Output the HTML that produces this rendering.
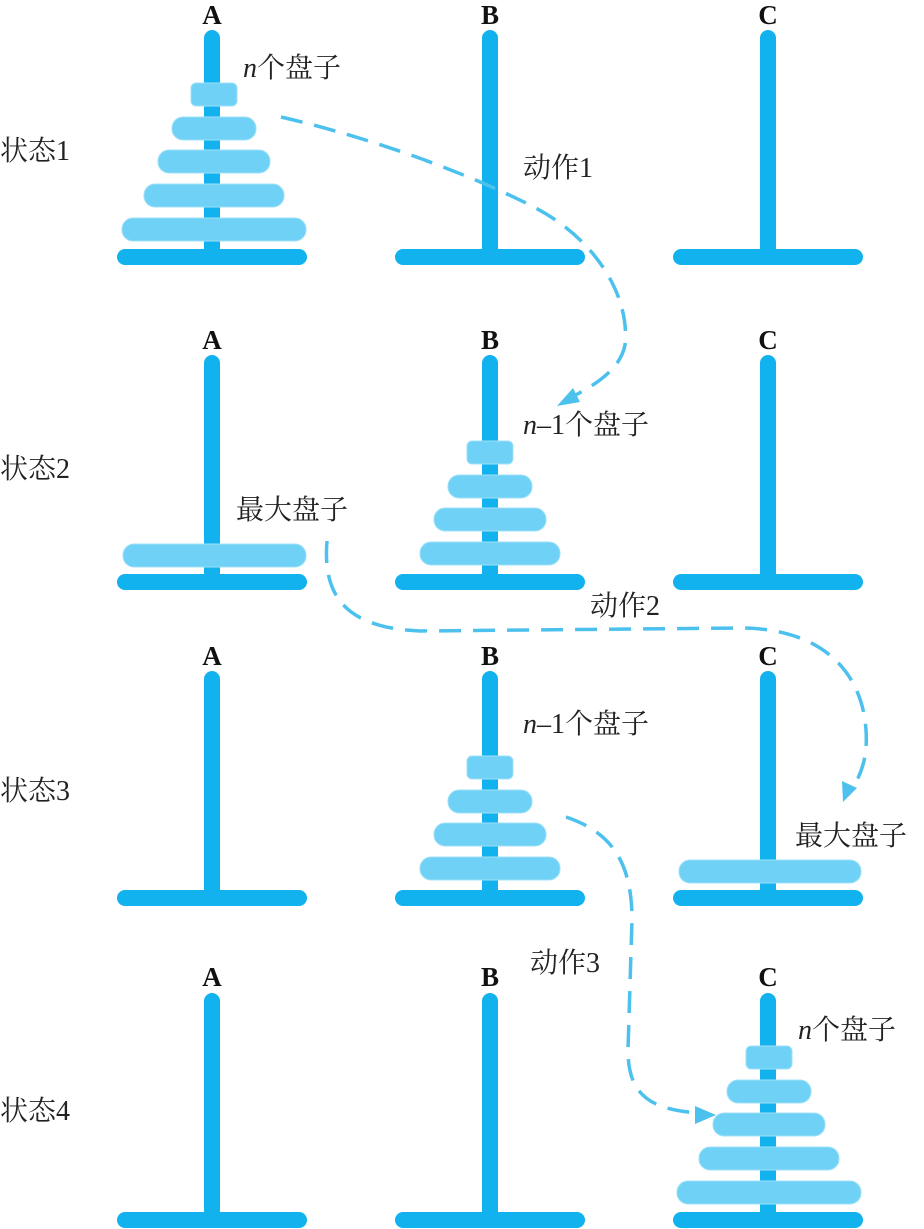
<!DOCTYPE html>
<html><head><meta charset="utf-8"><style>
html,body{margin:0;padding:0;background:#fff}
svg{display:block}
.t{font-family:"Liberation Serif","Noto Serif CJK SC","Noto Sans CJK SC",serif;font-size:28px;fill:#222}
.L{font-family:"Liberation Serif",serif;font-size:27px;font-weight:bold;fill:#111;text-anchor:middle}
.d{fill:#6fd1f5;stroke:#9fe0f8;stroke-width:1}
.c{fill:none;stroke:#4cc1ee;stroke-width:3.5;stroke-dasharray:22,12}
</style></head><body>
<svg width="924" height="1229" viewBox="0 0 924 1229" xmlns="http://www.w3.org/2000/svg">
<defs>
<g id="peg">
<rect x="-8" y="0" width="16" height="232" rx="8" fill="#12b2ee"/>
<rect x="-95" y="219" width="190" height="16" rx="8" fill="#12b2ee"/>
</g>
<g id="d4">
<rect class="d" x="-23" y="0" width="46" height="23" rx="5"/>
<rect class="d" x="-42" y="34" width="84" height="23" rx="11"/>
<rect class="d" x="-56" y="67" width="112" height="23" rx="11"/>
<rect class="d" x="-70" y="101" width="140" height="23" rx="11"/>
</g>
<g id="d5">
<use href="#d4"/>
<rect class="d" x="-92" y="135" width="184" height="23" rx="11"/>
</g>
</defs>
<!-- row 1 -->
<g transform="translate(0,30)">
<use href="#peg" x="212"/><use href="#peg" x="490"/><use href="#peg" x="768"/>
</g>
<use href="#d5" x="214" y="83"/>
<!-- row 2 -->
<g transform="translate(0,355)">
<use href="#peg" x="212"/><use href="#peg" x="490"/><use href="#peg" x="768"/>
</g>
<rect class="d" x="123" y="544" width="183" height="23" rx="11"/>
<use href="#d4" x="490" y="441"/>
<!-- row 3 -->
<g transform="translate(0,671)">
<use href="#peg" x="212"/><use href="#peg" x="490"/><use href="#peg" x="768"/>
</g>
<use href="#d4" x="490" y="756"/>
<rect class="d" x="679" y="860" width="182" height="23" rx="11"/>
<!-- row 4 -->
<g transform="translate(0,993)">
<use href="#peg" x="212"/><use href="#peg" x="490"/><use href="#peg" x="768"/>
</g>
<use href="#d5" x="769" y="1046"/>

<!-- labels -->
<text class="L" x="212" y="24">A</text><text class="L" x="490" y="24">B</text><text class="L" x="768" y="24">C</text>
<text class="L" x="212" y="349">A</text><text class="L" x="490" y="349">B</text><text class="L" x="768" y="349">C</text>
<text class="L" x="212" y="665">A</text><text class="L" x="490" y="665">B</text><text class="L" x="768" y="665">C</text>
<text class="L" x="212" y="986">A</text><text class="L" x="490" y="986">B</text><text class="L" x="768" y="986">C</text>

<text class="t" x="0" y="160">状态1</text>
<text class="t" x="0" y="478">状态2</text>
<text class="t" x="0" y="800">状态3</text>
<text class="t" x="0" y="1120">状态4</text>

<text class="t" x="243" y="77"><tspan font-style="italic">n</tspan>个盘子</text>
<text class="t" x="523" y="177">动作1</text>
<text class="t" x="523" y="434"><tspan font-style="italic">n</tspan>–1个盘子</text>
<text class="t" x="236" y="519">最大盘子</text>
<text class="t" x="590" y="615">动作2</text>
<text class="t" x="523" y="733"><tspan font-style="italic">n</tspan>–1个盘子</text>
<text class="t" x="795" y="845">最大盘子</text>
<text class="t" x="530" y="972">动作3</text>
<text class="t" x="798" y="1039"><tspan font-style="italic">n</tspan>个盘子</text>

<!-- connectors -->
<path class="c" d="M281,117 C380,140 470,175 530,205 C600,240 630,300 625,345 C620,370 595,385 570,398"/>
<polygon points="557,406 573,388 580,402" fill="#4cc1ee"/>
<path class="c" d="M327,541 C322,600 350,628 420,631 L740,628 C820,628 862,670 866,730 C868,760 860,775 852,790"/>
<polygon points="843,802 842,781 857,788" fill="#4cc1ee"/>
<path class="c" d="M566,817 C610,832 632,860 632,920 L628,1050 C628,1095 650,1110 700,1113"/>
<polygon points="716,1115 695,1106 695,1124" fill="#4cc1ee"/>
</svg>
</body></html>
